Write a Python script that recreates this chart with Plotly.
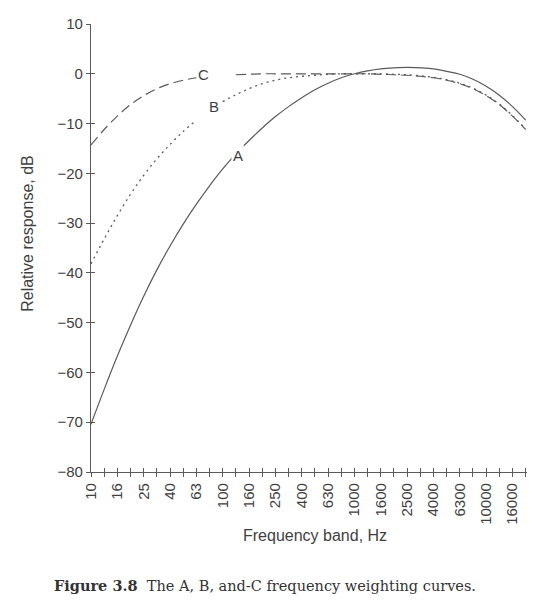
import plotly.graph_objects as go

bands = ["10", "12.5", "16", "20", "25", "31.5", "40", "50", "63", "80", "100", "125",
         "160", "200", "250", "315", "400", "500", "630", "800", "1000", "1250", "1600",
         "2000", "2500", "3150", "4000", "5000", "6300", "8000", "10000", "12500", "16000", "20000"]
tick_labels = [b if i % 2 == 0 else "" for i, b in enumerate(bands)]

a_weight = [-70.4, -63.4, -56.7, -50.5, -44.7, -39.4, -34.6, -30.2, -26.2, -22.5, -19.1, -16.1,
            -13.4, -10.9, -8.6, -6.6, -4.8, -3.2, -1.9, -0.8, 0.0, 0.6, 1.0, 1.2, 1.3, 1.2,
            1.0, 0.5, -0.1, -1.1, -2.5, -4.3, -6.6, -9.3]
b_weight = [-38.2, -33.2, -28.5, -24.2, -20.4, -17.1, -14.2, -11.6, -9.3, -7.4, -5.6, -4.2,
            -3.0, -2.0, -1.3, -0.8, -0.5, -0.3, -0.1, 0.0, 0.0, 0.0, 0.0, -0.1, -0.2, -0.4,
            -0.7, -1.2, -1.9, -2.9, -4.3, -6.1, -8.4, -11.1]
c_weight = [-14.3, -11.2, -8.5, -6.2, -4.4, -3.0, -2.0, -1.3, -0.8, -0.5, -0.3, -0.2,
            -0.1, 0.0, 0.0, 0.0, 0.0, 0.0, 0.0, 0.0, 0.0, 0.0, -0.1, -0.2, -0.3, -0.5,
            -0.8, -1.3, -2.0, -3.0, -4.4, -6.2, -8.5, -11.2]

# bands left blank where the curve label sits
b_gap = ["80"]
c_gap = ["80", "100"]

y_ticks = [10, 0, -10, -20, -30, -40, -50, -60, -70, -80]

INK = "#5a5a5a"
TXT = "#3f3f3f"
SANS = "Liberation Sans, Arial, sans-serif"
SERIF = "DejaVu Serif, Liberation Serif, serif"

# page geometry (the browser page has an 8px body margin)
OFF = 8
W, H = 535 - OFF, 603 - OFF
L, R, T, B = 83, 8, 7, 131
PW, PH = W - L - R, H - T - B


def with_gaps(vals, gaps):
    return [None if b in gaps else v for b, v in zip(bands, vals)]


def px_to_paper(sx, sy):
    return (sx - OFF - L) / PW, (H - B - (sy - OFF)) / PH


fig = go.Figure()
fig.add_trace(go.Scatter(x=bands, y=a_weight, mode="lines", line=dict(color=INK, width=1.2, shape="spline"),
                         showlegend=False, hoverinfo="skip"))
fig.add_trace(go.Scatter(x=bands, y=with_gaps(b_weight, b_gap), mode="lines",
                         line=dict(color=INK, width=1.3, dash="2px,4px", shape="spline"),
                         showlegend=False, hoverinfo="skip"))
fig.add_trace(go.Scatter(x=bands, y=with_gaps(c_weight, c_gap), mode="lines",
                         line=dict(color=INK, width=1.2, dash="10px,5px", shape="spline"),
                         showlegend=False, hoverinfo="skip"))
fig.add_trace(go.Scatter(x=[None], y=[None], xaxis="x2", yaxis="y2", showlegend=False, hoverinfo="skip"))

rng_x = [0, 33.1]
rng_y = [-80, 10]

fig.update_layout(
    width=W, height=H,
    margin=dict(l=L, r=R, t=T, b=B),
    paper_bgcolor="white", plot_bgcolor="white",
    font=dict(family=SANS, size=15, color=TXT),
    xaxis=dict(type="category", categoryorder="array", categoryarray=bands, range=rng_x,
               tickmode="array", tickvals=bands, ticktext=tick_labels, tickangle=-90,
               ticks="outside", ticklen=4, tickwidth=1, tickcolor=INK,
               showline=True, linecolor=INK, linewidth=1.3, showgrid=False, zeroline=False,
               ticklabeloverflow="allow", tickfont=dict(size=15, color=TXT)),
    xaxis2=dict(overlaying="x", anchor="y", type="linear", range=rng_x,
                tickmode="array", tickvals=list(range(len(bands))),
                ticks="inside", ticklen=4, tickwidth=1, tickcolor=INK,
                showticklabels=False, showline=False, showgrid=False, zeroline=False, side="bottom"),
    yaxis=dict(range=rng_y, tickmode="array", tickvals=y_ticks,
               ticks="outside", ticklen=4, tickwidth=1, tickcolor=INK,
               showline=True, linecolor=INK, linewidth=1.3, showgrid=False, zeroline=False,
               ticklabeloverflow="allow", tickfont=dict(size=15, color=TXT)),
    yaxis2=dict(overlaying="y", anchor="x", range=rng_y, tickmode="array", tickvals=y_ticks,
                ticks="inside", ticklen=4, tickwidth=1, tickcolor=INK,
                showticklabels=False, showline=False, showgrid=False, zeroline=False, side="left"),
)

# curve labels
fig.add_annotation(x=8.55, y=-0.2, xref="x", yref="y", text="C", showarrow=False,
                   font=dict(size=15, color=TXT))
fig.add_annotation(x=9.35, y=-6.6, xref="x", yref="y", text="B", showarrow=False,
                   font=dict(size=15, color=TXT))
fig.add_annotation(x=11.15, y=-16.4, xref="x", yref="y", text="A", showarrow=False,
                   font=dict(size=15, color=TXT), bgcolor="white", borderpad=1)

# axis titles and caption (positions given in page pixels, centred)
x, y = px_to_paper(28, 229)
fig.add_annotation(x=x, y=y, xref="paper", yref="paper", xanchor="center", yanchor="middle",
                   text="Relative response, dB", showarrow=False, textangle=-90,
                   font=dict(size=16, color=TXT))
x, y = px_to_paper(315, 537)
fig.add_annotation(x=x, y=y, xref="paper", yref="paper", xanchor="center", yanchor="middle",
                   text="Frequency band, Hz", showarrow=False, font=dict(size=16, color=TXT))
x, y = px_to_paper(265, 588)
fig.add_annotation(x=x, y=y, xref="paper", yref="paper", xanchor="center", yanchor="middle",
                   text="<b>Figure 3.8</b>  The A, B, and-C frequency weighting curves.",
                   showarrow=False, font=dict(family=SERIF, size=14.5, color="#333333"))

fig.write_html("out.html")
